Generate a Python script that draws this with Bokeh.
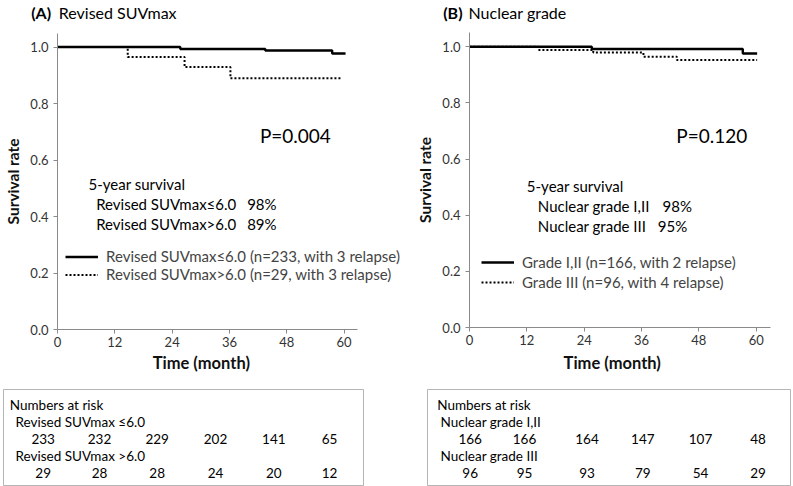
from bokeh.plotting import figure
from bokeh.layouts import row, column
from bokeh.models import Range1d, FixedTicker, PrintfTickFormatter, Legend, LegendItem
from bokeh.core.properties import value
from bokeh.embed import file_html
from bokeh.resources import INLINE

FONT = "Lato"

# ---------------- data ----------------
time_ticks = [0, 12, 24, 36, 48, 60]
surv_ticks = [0.0, 0.2, 0.4, 0.6, 0.8, 1.0]

# Panel A : revised SUVmax
a_tag = "(A)"
a_title = "Revised SUVmax"
a_low_t = [0, 25.7, 43.5, 57.5, 60.3]
a_low_s = [1.0, 0.993, 0.988, 0.977, 0.977]
a_high_t = [0, 14.7, 26.6, 36.2, 59.6]
a_high_s = [1.0, 0.965, 0.929, 0.890, 0.890]
a_legend = ["Revised SUVmax≤6.0 (n=233, with 3 relapse)",
            "Revised SUVmax>6.0 (n=29, with 3 relapse)"]
a_pval = "P=0.004"
a_surv_head = "5-year survival"
a_surv_groups = ["Revised SUVmax≤6.0", "Revised SUVmax>6.0"]
a_surv_pct = ["98%", "89%"]
a_risk_groups = ["Revised SUVmax ≤6.0", "Revised SUVmax >6.0"]
a_risk_low = [233, 232, 229, 202, 141, 65]
a_risk_high = [29, 28, 28, 24, 20, 12]

# Panel B : nuclear grade
b_tag = "(B)"
b_title = "Nuclear grade"
b_low_t = [0, 25.6, 57.2, 60.2]
b_low_s = [1.0, 0.992, 0.976, 0.976]
b_high_t = [0, 14.4, 25.9, 36.4, 43.4, 60.2]
b_high_s = [1.0, 0.989, 0.980, 0.965, 0.953, 0.953]
b_legend = ["Grade I,II (n=166, with 2 relapse)",
            "Grade III (n=96, with 4 relapse)"]
b_pval = "P=0.120"
b_surv_head = "5-year survival"
b_surv_groups = ["Nuclear grade I,II", "Nuclear grade III"]
b_surv_pct = ["98%", "95%"]
b_risk_groups = ["Nuclear grade I,II", "Nuclear grade III"]
b_risk_low = [166, 166, 164, 147, 107, 48]
b_risk_high = [96, 95, 93, 79, 54, 29]

risk_head = "Numbers at risk"
x_label = "Time (month)"
y_label = "Survival rate"

AXIS_COLOR = "#8a8a8a"
TICK_TEXT = "#333333"
ANNOT_FS = "15px"


def blank_fig(w, h, bl=0, br=0, bt=0, bb=0):
    fw, fh = w - bl - br, h - bt - bb
    f = figure(width=w, height=h, output_backend="svg", toolbar_location=None,
               x_range=Range1d(0, fw), y_range=Range1d(fh, 0),
               min_border_left=bl, min_border_right=br,
               min_border_top=bt, min_border_bottom=bb,
               x_axis_location=None, y_axis_location=None, frame_align=False)
    f.grid.visible = False
    f.outline_line_color = None
    return f


def title_fig(tag, title, w, tag_x, title_x):
    t = blank_fig(w, 22)
    t.text(x=[tag_x], y=[12], text=[tag], text_font=value(FONT), text_font_style="bold",
           text_font_size="16px", text_baseline="middle", text_align="left")
    t.text(x=[title_x], y=[12], text=[title], text_font=value(FONT),
           text_font_size="16px", text_baseline="middle", text_align="left")
    return t


def xlabel_fig(w, cx):
    t = blank_fig(w, 35)
    t.text(x=[cx], y=[9.7], text=[x_label], text_font=value(FONT), text_font_style="bold",
           text_font_size="16.5px", text_baseline="middle", text_align="center",
           text_color="#111111")
    return t


def km_plot(low_t, low_s, high_t, high_s, legend_labels, pval,
            surv_head, surv_groups, surv_pct, lay):
    p = figure(width=lay["w"], height=331, output_backend="svg", toolbar_location=None,
               x_range=Range1d(0, lay["xmax"]), y_range=Range1d(0, lay["ymax"]),
               min_border_left=lay["bl"], min_border_right=0,
               min_border_top=lay["bt"], min_border_bottom=lay["bb"], frame_align=False)
    p.outline_line_color = None
    p.grid.visible = False
    p.background_fill_color = "white"
    p.border_fill_color = "white"

    for ax in (p.xaxis[0], p.yaxis[0]):
        ax.axis_line_color = AXIS_COLOR
        ax.major_tick_line_color = AXIS_COLOR
        ax.major_tick_out = 4
        ax.major_tick_in = 0
        ax.minor_tick_line_color = None
        ax.major_label_text_font = FONT
        ax.major_label_text_font_size = "13px"
        ax.major_label_text_color = TICK_TEXT
    p.xaxis.major_label_standoff = 3
    p.yaxis.major_label_standoff = 5
    p.yaxis.axis_label = y_label
    p.yaxis.axis_label_standoff = 5
    p.yaxis.axis_label_text_font = FONT
    p.yaxis.axis_label_text_font_style = "bold"
    p.yaxis.axis_label_text_font_size = "15.5px"
    p.yaxis.axis_label_text_color = "#111111"
    p.xaxis.ticker = FixedTicker(ticks=time_ticks)
    p.xaxis.bounds = (0, lay["xaxis_end"])
    p.yaxis.ticker = FixedTicker(ticks=surv_ticks)
    p.yaxis.formatter = PrintfTickFormatter(format="%.1f")

    r_high = p.step(high_t, high_s, mode="after", line_color="black", line_width=2,
                    line_dash="2 2")
    r_low = p.step(low_t, low_s, mode="after", line_color="black", line_width=2.4)

    legend = Legend(items=[LegendItem(label=legend_labels[0], renderers=[r_low]),
                           LegendItem(label=legend_labels[1], renderers=[r_high])],
                    location=lay["leg_loc"], padding=0, margin=0, spacing=0,
                    glyph_width=33, glyph_height=lay["leg_h"], label_height=lay["leg_h"],
                    label_standoff=8, label_text_font=FONT, label_text_font_size=ANNOT_FS,
                    background_fill_alpha=0, border_line_alpha=0)
    p.add_layout(legend)

    p.text(x=[lay["p_x"]], y=[lay["p_y"]], text=[pval], text_font=value(FONT),
           text_font_size="19px", text_align="center", text_baseline="middle",
           text_color="black")
    p.text(x=[lay["head_x"]], y=[lay["head_y"]], text=[surv_head], text_font=value(FONT),
           text_font_size=ANNOT_FS, text_align="left", text_baseline="middle")
    p.text(x=[lay["grp_x"]] * 2, y=lay["grp_y"], text=surv_groups, text_font=value(FONT),
           text_font_size=ANNOT_FS, text_align="left", text_baseline="middle")
    p.text(x=lay["pct_x"], y=lay["grp_y"], text=surv_pct, text_font=value(FONT),
           text_font_size=ANNOT_FS, text_align="left", text_baseline="middle")
    return p


def risk_table(groups, low, high, lay):
    t = blank_fig(lay["w"], 98, bl=lay["bl"], br=lay["br"], bt=1, bb=1)
    t.outline_line_color = "#b5b5b5"
    t.outline_line_width = 1
    rows_y = [15, 32.7, 49.3, 66.7, 83.3]
    fs = "13.5px"
    t.text(x=[lay["head_x"]], y=[rows_y[0]], text=[risk_head], text_font=value(FONT),
           text_font_size=fs, text_baseline="middle", text_align="left")
    t.text(x=[lay["grp_x"]] * 2, y=[rows_y[1], rows_y[3]], text=groups, text_font=value(FONT),
           text_font_size=fs, text_baseline="middle", text_align="left")
    t.text(x=lay["cols"], y=[rows_y[2]] * len(low), text=[str(v) for v in low],
           text_font=value(FONT), text_font_size=fs, text_baseline="middle", text_align="center")
    t.text(x=lay["cols"], y=[rows_y[4]] * len(high), text=[str(v) for v in high],
           text_font=value(FONT), text_font_size=fs, text_baseline="middle", text_align="center")
    return t


WA, WB = 404, 389

lay_a = dict(w=WA, bl=57, bt=11, bb=24, xmax=(WA - 57) / 4.777, ymax=1.048, xaxis_end=62.8,
             leg_loc=(8, 46), leg_h=17,
             p_x=49.8, p_y=0.687, head_x=6.5, head_y=0.516, grp_x=8.1,
             grp_y=[0.445, 0.374], pct_x=[39.7, 39.7])
lay_b = dict(w=WB, bl=65, bt=10, bb=26, xmax=(WB - 65) / 4.778, ymax=1.051, xaxis_end=63.0,
             leg_loc=(12, 35), leg_h=20,
             p_x=50.7, p_y=0.683, head_x=12.0, head_y=0.505, grp_x=14.3,
             grp_y=[0.434, 0.362], pct_x=[40.4, 39.4])

ha = title_fig(a_tag, a_title, WA, 30.7, 58.3)
hb = title_fig(b_tag, b_title, WB, 442.7 - WA, 468 - WA)

pa = km_plot(a_low_t, a_low_s, a_high_t, a_high_s, a_legend, a_pval,
             a_surv_head, a_surv_groups, a_surv_pct, lay_a)
pb = km_plot(b_low_t, b_low_s, b_high_t, b_high_s, b_legend, b_pval,
             b_surv_head, b_surv_groups, b_surv_pct, lay_b)

xa = xlabel_fig(WA, 200.8)
xb = xlabel_fig(WB, 611.7 - WA)

ta = risk_table(a_risk_groups, a_risk_low, a_risk_high,
                dict(w=WA, bl=3, br=WA - 363, head_x=6.3, grp_x=12,
                     cols=[39.7, 96, 153.7, 212, 270.3, 326]))
tb = risk_table(b_risk_groups, b_risk_low, b_risk_high,
                dict(w=WB, bl=427 - WA, br=3, head_x=9.7, grp_x=13,
                     cols=[42.7, 97, 159.5, 215.3, 273, 330.5]))

layout = row(column(ha, pa, xa, ta), column(hb, pb, xb, tb))

open("out.html", "w").write(file_html(layout, INLINE))
